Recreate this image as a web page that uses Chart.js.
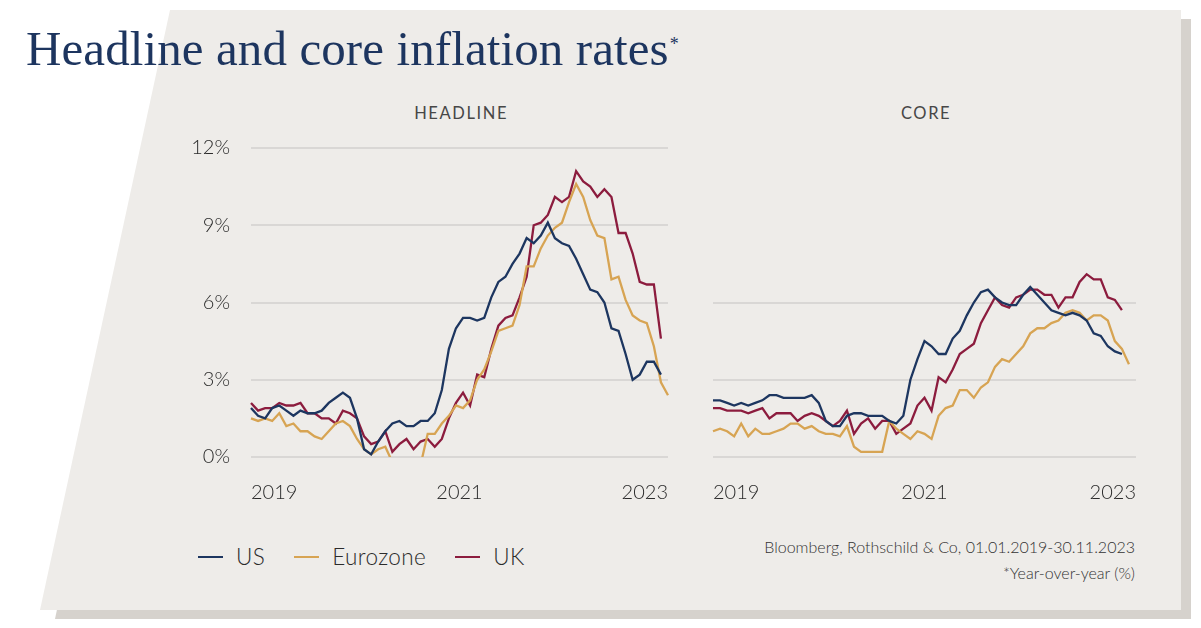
<!DOCTYPE html>
<html>
<head>
<meta charset="utf-8">
<script src="https://cdn.jsdelivr.net/npm/chart.js@4.4.1/dist/chart.umd.min.js"></script>
<style>

    html, body {
        margin: 0;
        padding: 0;
        background: #ffffff;
    }

    #stage {
        position: relative;
        width: 1201px;
        height: 628px;
        overflow: hidden;
        font-family: Lato, "Noto Sans", sans-serif;
        color: #2b2b2b;
    }

    #stage .shadow, #stage .panel {
        position: absolute;
        left: 0;
        top: 0;
        width: 1201px;
        height: 628px;
    }

    #stage .shadow {
        background: #d6d2cd;
        clip-path: polygon(182px 19px, 1191px 19px, 1191px 619px, 55px 619px);
    }

    #stage .panel {
        background: #eeece9;
        clip-path: polygon(170px 10px, 1181px 10px, 1181px 610px, 40px 610px);
    }

    #stage h1 {
        position: absolute;
        left: 26px;
        top: 24px;
        margin: 0;
        font: 400 49px/49px "Liberation Serif", "DejaVu Serif", serif;
        letter-spacing: 0.1px;
        color: #1d355f;
        white-space: nowrap;
    }

    #stage h1 span {
        font-size: 18px;
        position: relative;
        top: -15px;
        margin-left: 1px;
    }

    #stage .panel-title {
        position: absolute;
        top: 103px;
        width: 200px;
        text-align: center;
        font-size: 16.5px;
        line-height: 20px;
        font-weight: 400;
        letter-spacing: 1.6px;
        padding-left: 1.6px;
        color: #474747;
    }

    #stage canvas {
        position: absolute;
    }

    #stage .legend {
        position: absolute;
        left: 198px;
        top: 544px;
        display: flex;
        align-items: center;
        font-size: 22.5px;
        font-weight: 300;
        line-height: 26px;
        letter-spacing: 0.4px;
    }

    #stage .legend i {
        display: inline-block;
        width: 25px;
        height: 2.5px;
        margin-right: 13px;
    }

    #stage .legend b {
        font-weight: 300;
        margin-right: 29px;
    }

    #stage .source {
        position: absolute;
        right: 66px;
        top: 534px;
        text-align: right;
        font-size: 16px;
        font-weight: 300;
        line-height: 26px;
        color: #333333;
    }

</style>
</head>
<body>

<div id="stage">
    <div class="shadow"></div>
    <div class="panel"></div>
    <h1>Headline and core inflation rates<span>*</span></h1>

    <div class="panel-title" style="left: 359.5px">HEADLINE</div>
    <div class="panel-title" style="left: 824.5px">CORE</div>

    <canvas id="headline" width="548" height="392" style="left: 150px; top: 115px"></canvas>
    <canvas id="core" width="483" height="379" style="left: 683px; top: 128px"></canvas>

    <div class="legend"></div>

    <div class="source">
        Bloomberg, Rothschild &amp; Co, 01.01.2019-30.11.2023<br>
        *Year-over-year (%)
    </div>
</div>

<script>

    /* global Chart */

    // monthly, Dec 2018 .. Nov 2023
    const months = [
        'Dec 18',
        'Jan 19', 'Feb 19', 'Mar 19', 'Apr 19', 'May 19', 'Jun 19', 'Jul 19', 'Aug 19', 'Sep 19', 'Oct 19', 'Nov 19', 'Dec 19',
        'Jan 20', 'Feb 20', 'Mar 20', 'Apr 20', 'May 20', 'Jun 20', 'Jul 20', 'Aug 20', 'Sep 20', 'Oct 20', 'Nov 20', 'Dec 20',
        'Jan 21', 'Feb 21', 'Mar 21', 'Apr 21', 'May 21', 'Jun 21', 'Jul 21', 'Aug 21', 'Sep 21', 'Oct 21', 'Nov 21', 'Dec 21',
        'Jan 22', 'Feb 22', 'Mar 22', 'Apr 22', 'May 22', 'Jun 22', 'Jul 22', 'Aug 22', 'Sep 22', 'Oct 22', 'Nov 22', 'Dec 22',
        'Jan 23', 'Feb 23', 'Mar 23', 'Apr 23', 'May 23', 'Jun 23', 'Jul 23', 'Aug 23', 'Sep 23', 'Oct 23', 'Nov 23'
    ];
    // the core panel's axis runs one month further
    const coreMonths = months.concat(['Dec 23']);

    const seriesNames = ['US', 'Eurozone', 'UK'];
    const seriesColors = ['#1d3660', '#d7a453', '#8c1c3e'];

    const usHeadline = [
        1.9,
        1.6, 1.5, 1.9, 2.0, 1.8, 1.6, 1.8, 1.7, 1.7, 1.8, 2.1, 2.3,
        2.5, 2.3, 1.5, 0.3, 0.1, 0.6, 1.0, 1.3, 1.4, 1.2, 1.2, 1.4,
        1.4, 1.7, 2.6, 4.2, 5.0, 5.4, 5.4, 5.3, 5.4, 6.2, 6.8, 7.0,
        7.5, 7.9, 8.5, 8.3, 8.6, 9.1, 8.5, 8.3, 8.2, 7.7, 7.1, 6.5,
        6.4, 6.0, 5.0, 4.9, 4.0, 3.0, 3.2, 3.7, 3.7, 3.2
    ];
    const euHeadline = [
        1.5,
        1.4, 1.5, 1.4, 1.7, 1.2, 1.3, 1.0, 1.0, 0.8, 0.7, 1.0, 1.3,
        1.4, 1.2, 0.7, 0.3, 0.1, 0.3, 0.4, -0.2, -0.3, -0.3, -0.3, -0.3,
        0.9, 0.9, 1.3, 1.6, 2.0, 1.9, 2.2, 3.0, 3.4, 4.1, 4.9, 5.0,
        5.1, 5.9, 7.4, 7.4, 8.1, 8.6, 8.9, 9.1, 9.9, 10.6, 10.1, 9.2,
        8.6, 8.5, 6.9, 7.0, 6.1, 5.5, 5.3, 5.2, 4.3, 2.9, 2.4
    ];
    const ukHeadline = [
        2.1,
        1.8, 1.9, 1.9, 2.1, 2.0, 2.0, 2.1, 1.7, 1.7, 1.5, 1.5, 1.3,
        1.8, 1.7, 1.5, 0.8, 0.5, 0.6, 1.0, 0.2, 0.5, 0.7, 0.3, 0.6,
        0.7, 0.4, 0.7, 1.5, 2.1, 2.5, 2.0, 3.2, 3.1, 4.2, 5.1, 5.4,
        5.5, 6.2, 7.0, 9.0, 9.1, 9.4, 10.1, 9.9, 10.1, 11.1, 10.7, 10.5,
        10.1, 10.4, 10.1, 8.7, 8.7, 7.9, 6.8, 6.7, 6.7, 4.6
    ];

    const usCore = [
        2.2,
        2.2, 2.1, 2.0, 2.1, 2.0, 2.1, 2.2, 2.4, 2.4, 2.3, 2.3, 2.3,
        2.3, 2.4, 2.1, 1.4, 1.2, 1.2, 1.6, 1.7, 1.7, 1.6, 1.6, 1.6,
        1.4, 1.3, 1.6, 3.0, 3.8, 4.5, 4.3, 4.0, 4.0, 4.6, 4.9, 5.5,
        6.0, 6.4, 6.5, 6.2, 6.0, 5.9, 5.9, 6.3, 6.6, 6.3, 6.0, 5.7,
        5.6, 5.5, 5.6, 5.5, 5.3, 4.8, 4.7, 4.3, 4.1, 4.0
    ];
    const euCore = [
        1.0,
        1.1, 1.0, 0.8, 1.3, 0.8, 1.1, 0.9, 0.9, 1.0, 1.1, 1.3, 1.3,
        1.1, 1.2, 1.0, 0.9, 0.9, 0.8, 1.2, 0.4, 0.2, 0.2, 0.2, 0.2,
        1.4, 1.1, 0.9, 0.7, 1.0, 0.9, 0.7, 1.6, 1.9, 2.0, 2.6, 2.6,
        2.3, 2.7, 2.9, 3.5, 3.8, 3.7, 4.0, 4.3, 4.8, 5.0, 5.0, 5.2,
        5.3, 5.6, 5.7, 5.6, 5.3, 5.5, 5.5, 5.3, 4.5, 4.2, 3.6
    ];
    const ukCore = [
        1.9,
        1.9, 1.8, 1.8, 1.8, 1.7, 1.8, 1.9, 1.5, 1.7, 1.7, 1.7, 1.4,
        1.6, 1.7, 1.6, 1.4, 1.2, 1.4, 1.8, 0.9, 1.3, 1.5, 1.1, 1.4,
        1.4, 0.9, 1.1, 1.3, 2.0, 2.3, 1.8, 3.1, 2.9, 3.4, 4.0, 4.2,
        4.4, 5.2, 5.7, 6.2, 5.9, 5.8, 6.2, 6.3, 6.5, 6.5, 6.3, 6.3,
        5.8, 6.2, 6.2, 6.8, 7.1, 6.9, 6.9, 6.2, 6.1, 5.7
    ];

    const yearLabels = ['2019', '2021', '2023'];
    const yTicks = [0, 3, 6, 9, 12];
    const coreGridMax = 6;

    (function () {

        const tickFont = {family: 'Lato, "Noto Sans", sans-serif', size: 20, weight: 300};
        const gridColor = '#d9d7d5';

        function datasets(values) {
            return values.map((data, i) => ({
                label: seriesNames[i],
                data: data,
                borderColor: seriesColors[i],
                borderWidth: 2.3,
                pointRadius: 0,
                tension: 0,
                fill: false
            }));
        }

        // the y tick labels add their own top padding, so the headline canvas sits higher
        function makeChart(id, labels, values, showYLabels, yWidth, padTop) {
            const last = labels.length - 1;
            return new Chart(document.getElementById(id), {
                type: 'line',
                data: {labels: labels, datasets: datasets(values)},
                options: {
                    responsive: false,
                    animation: false,
                    events: [],
                    layout: {padding: {top: padTop, right: 30, bottom: 0, left: 0}},
                    plugins: {legend: {display: false}, tooltip: {enabled: false}},
                    scales: {
                        x: {
                            grid: {display: false, drawTicks: false},
                            border: {display: false},
                            afterFit: s => { s.height = 50 },
                            afterBuildTicks: s => {
                                s.ticks = [0, last / 2, last].map(v => ({value: v}))
                            },
                            ticks: {
                                autoSkip: false,
                                maxRotation: 0,
                                align: 'inner',
                                padding: 24,
                                color: '#2b2b2b',
                                font: tickFont,
                                callback: (v, i) => yearLabels[i]
                            }
                        },
                        y: {
                            min: 0,
                            max: 12,
                            afterFit: s => { s.width = yWidth },
                            afterBuildTicks: s => {
                                s.ticks = yTicks.map(v => ({value: v}))
                            },
                            border: {display: false},
                            grid: {
                                drawTicks: false,
                                lineWidth: 2,
                                color: c => (showYLabels || c.tick.value <= coreGridMax) ? gridColor : 'rgba(0,0,0,0)'
                            },
                            ticks: {
                                display: showYLabels,
                                padding: 21,
                                color: '#2b2b2b',
                                font: tickFont,
                                callback: v => v + '%'
                            }
                        }
                    }
                }
            });
        }

        makeChart('headline', months, [usHeadline, euHeadline, ukHeadline], true, 101, 0);
        makeChart('core', coreMonths, [usCore, euCore, ukCore], false, 30, 20);

        const legend = document.querySelector('#stage .legend');
        seriesNames.forEach((name, i) => {
            const sw = document.createElement('i');
            sw.style.background = seriesColors[i];
            const txt = document.createElement('b');
            txt.textContent = name;
            legend.appendChild(sw);
            legend.appendChild(txt);
        });

    })()

</script>
</body>
</html>
